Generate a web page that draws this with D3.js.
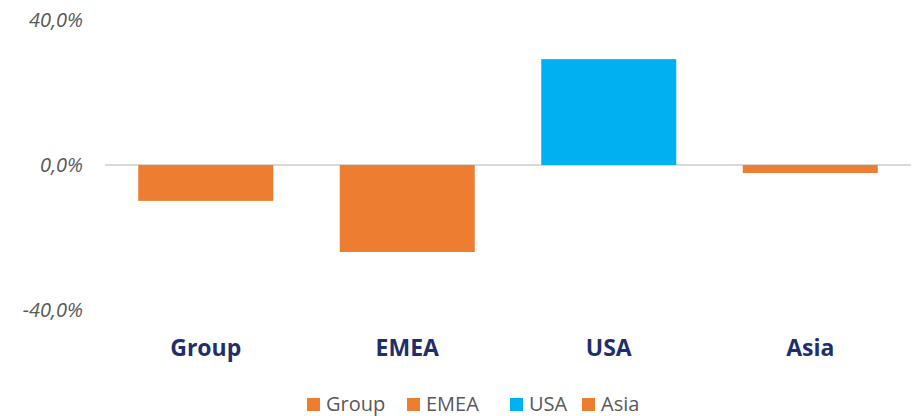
<!DOCTYPE html>
<html>
<head>
<meta charset="utf-8">
<script src="https://cdn.jsdelivr.net/npm/d3@7"></script>
<style>
  body { margin: 0; background: #fff; }
  svg { font-family: "Open Sans", "Noto Sans", sans-serif; }
</style>
</head>
<body>
<svg width="918" height="416"></svg>
<script>
// chart data
var categories = ["Group", "EMEA", "USA", "Asia"];
var values = [-9.9, -24.0, 29.2, -2.2];
var colors = ["#ed7d31", "#ed7d31", "#00b0f0", "#ed7d31"];
var yTicks = [-40, 0, 40];

var svg = d3.select("svg");

var x = d3.scaleBand().domain(categories).range([105, 911]).paddingInner(0.33).paddingOuter(0.165);
var y = d3.scaleLinear().domain([-40, 40]).range([310, 20]);

var fmt = function(d) { return d3.format(".1f")(d).replace(".", ",").replace("−", "-") + "%"; };

// y labels
svg.append("g").selectAll("text")
  .data(yTicks)
  .enter().append("text")
  .attr("x", 83)
  .attr("y", function(d) { return y(d); })
  .attr("dy", "0.35em")
  .attr("text-anchor", "end")
  .attr("font-style", "italic")
  .attr("font-size", 20)
  .attr("fill", "#595959")
  .text(fmt);

// zero line
svg.append("line")
  .attr("x1", 105).attr("x2", 911)
  .attr("y1", y(0)).attr("y2", y(0))
  .attr("stroke", "#d9d9d9").attr("stroke-width", 2);

// bars
svg.append("g").selectAll("rect")
  .data(values)
  .enter().append("rect")
  .attr("x", function(d, i) { return x(categories[i]); })
  .attr("width", x.bandwidth())
  .attr("y", function(d) { return y(Math.max(0, d)); })
  .attr("height", function(d) { return Math.abs(y(d) - y(0)); })
  .attr("fill", function(d, i) { return colors[i]; });

// category labels
svg.append("g").selectAll("text")
  .data(categories)
  .enter().append("text")
  .attr("x", function(d) { return x(d) + x.bandwidth() / 2; })
  .attr("y", 356)
  .attr("text-anchor", "middle")
  .attr("font-weight", "bold")
  .attr("font-size", 23)
  .attr("fill", "#1f2f6b")
  .text(function(d) { return d; });

// legend
var legendX = [307, 407, 510, 582];
var leg = svg.append("g").selectAll("g")
  .data(categories)
  .enter().append("g")
  .attr("transform", function(d, i) { return "translate(" + legendX[i] + ",398)"; });
leg.append("rect").attr("width", 13).attr("height", 13)
  .attr("fill", function(d, i) { return colors[i]; });
leg.append("text")
  .attr("x", 19).attr("y", 13)
  .attr("font-size", 20).attr("fill", "#595959")
  .text(function(d) { return d; });
</script>
</body>
</html>
